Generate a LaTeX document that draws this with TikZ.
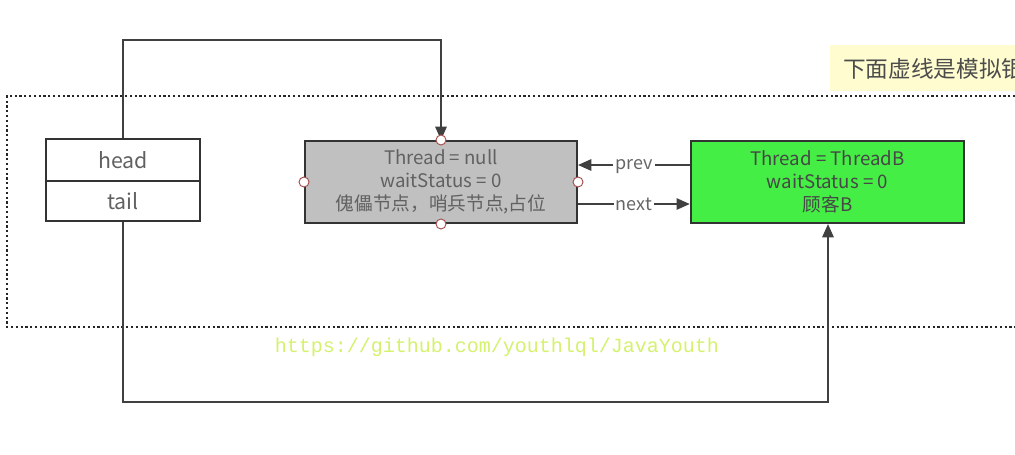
\documentclass[tikz,border=0pt]{standalone}
\usepackage{fontspec}
\setmainfont{Noto Sans CJK SC}
\newfontfamily\urlfont{Liberation Mono}
\usetikzlibrary{arrows.meta}
\definecolor{nodegreen}{RGB}{68,238,68}
\definecolor{nodegray}{RGB}{192,192,192}
\definecolor{urlcol}{RGB}{212,242,110}
\definecolor{notecol}{RGB}{255,252,208}
\begin{document}
\begin{tikzpicture}[x=0.75pt,y=-0.75pt,
  box/.style={draw=black!80,line width=1.5pt,inner sep=0pt,text=black!62},
  link/.style={draw=black!75,line width=1.5pt},
  arr/.style={link,-{Triangle[length=10pt,width=8.5pt]}},
  handle/.style={circle,draw=red!50!black!70,fill=white,line width=0.7pt,minimum size=7.5pt,inner sep=0pt},
  lbl/.style={font=\fontsize{13.5pt}{15pt}\selectfont,text=black!60,fill=white,inner xsep=1.5pt,inner ysep=0pt},
  body/.style={align=center,font=\fontsize{14pt}{17pt}\selectfont}]
\useasboundingbox (0,0) rectangle (1015,454);
\clip (0,0) rectangle (1015,454);
\fill[white] (0,0) rectangle (1015,454);
% dotted region
\draw[dotted,line width=1.6pt,black!85] (1020,96) -- (7,96) -- (7,327) -- (1020,327);
% note
\node[fill=notecol,minimum width=200pt,minimum height=34pt,anchor=north west,inner sep=0pt] (note) at (830,45) {};
\node[anchor=west,text=black!70,font=\fontsize{17pt}{19pt}\selectfont,inner sep=0pt] (notetext) at (843,69) {下面虚线是模拟银};
% head/tail box
\node[box,minimum width=115.5pt,minimum height=31.5pt] (head) at (123,160) {\fontsize{16pt}{18pt}\selectfont head};
\node[box,minimum width=115.5pt,minimum height=30pt] (tail) at (123,201) {\fontsize{16pt}{18pt}\selectfont tail};
% gray node
\node[box,fill=nodegray,minimum width=204pt,minimum height=61.5pt,body] (gray) at (441,182) {Thread = null\\waitStatus = 0\\傀儡节点，哨兵节点,占位};
% green node
\node[box,fill=nodegreen,minimum width=205pt,minimum height=61.5pt,body,text=black!72] (green) at (827.5,182) {Thread = ThreadB\\waitStatus = 0\\顾客B};
% prev / next
\coordinate (gprev) at (green.west |- 0,165);
\coordinate (yprev) at (gray.east |- 0,165);
\coordinate (ynext) at (gray.east |- 0,204);
\coordinate (gnext) at (green.west |- 0,204);
\draw[arr] (gprev) -- node[lbl,yshift=-1.5pt] (prevl) {prev} (yprev);
\draw[arr] (ynext) -- node[lbl] (nextl) {next} (gnext);
% head -> gray
\coordinate (h1) at (123,40);
\coordinate (h2) at (441,40);
\draw[arr] (head.north) -- (h1) -- (h2) -- (gray.north);
% tail -> green
\coordinate (t1) at (123,402);
\coordinate (t2) at (828,402);
\draw[arr] (tail.south) -- (t1) -- (t2) -- (green.south -| t2);
% handles
\node[handle] (hn) at (gray.north) {};
\node[handle] (hs) at (gray.south) {};
\node[handle] (hw) at (gray.west) {};
\node[handle] (he) at (gray.east) {};
% url
\node[text=urlcol,font=\urlfont\fontsize{15pt}{17pt}\selectfont] (url) at (497,347) {https://github.com/youthlql/JavaYouth};
\end{tikzpicture}
\end{document}
